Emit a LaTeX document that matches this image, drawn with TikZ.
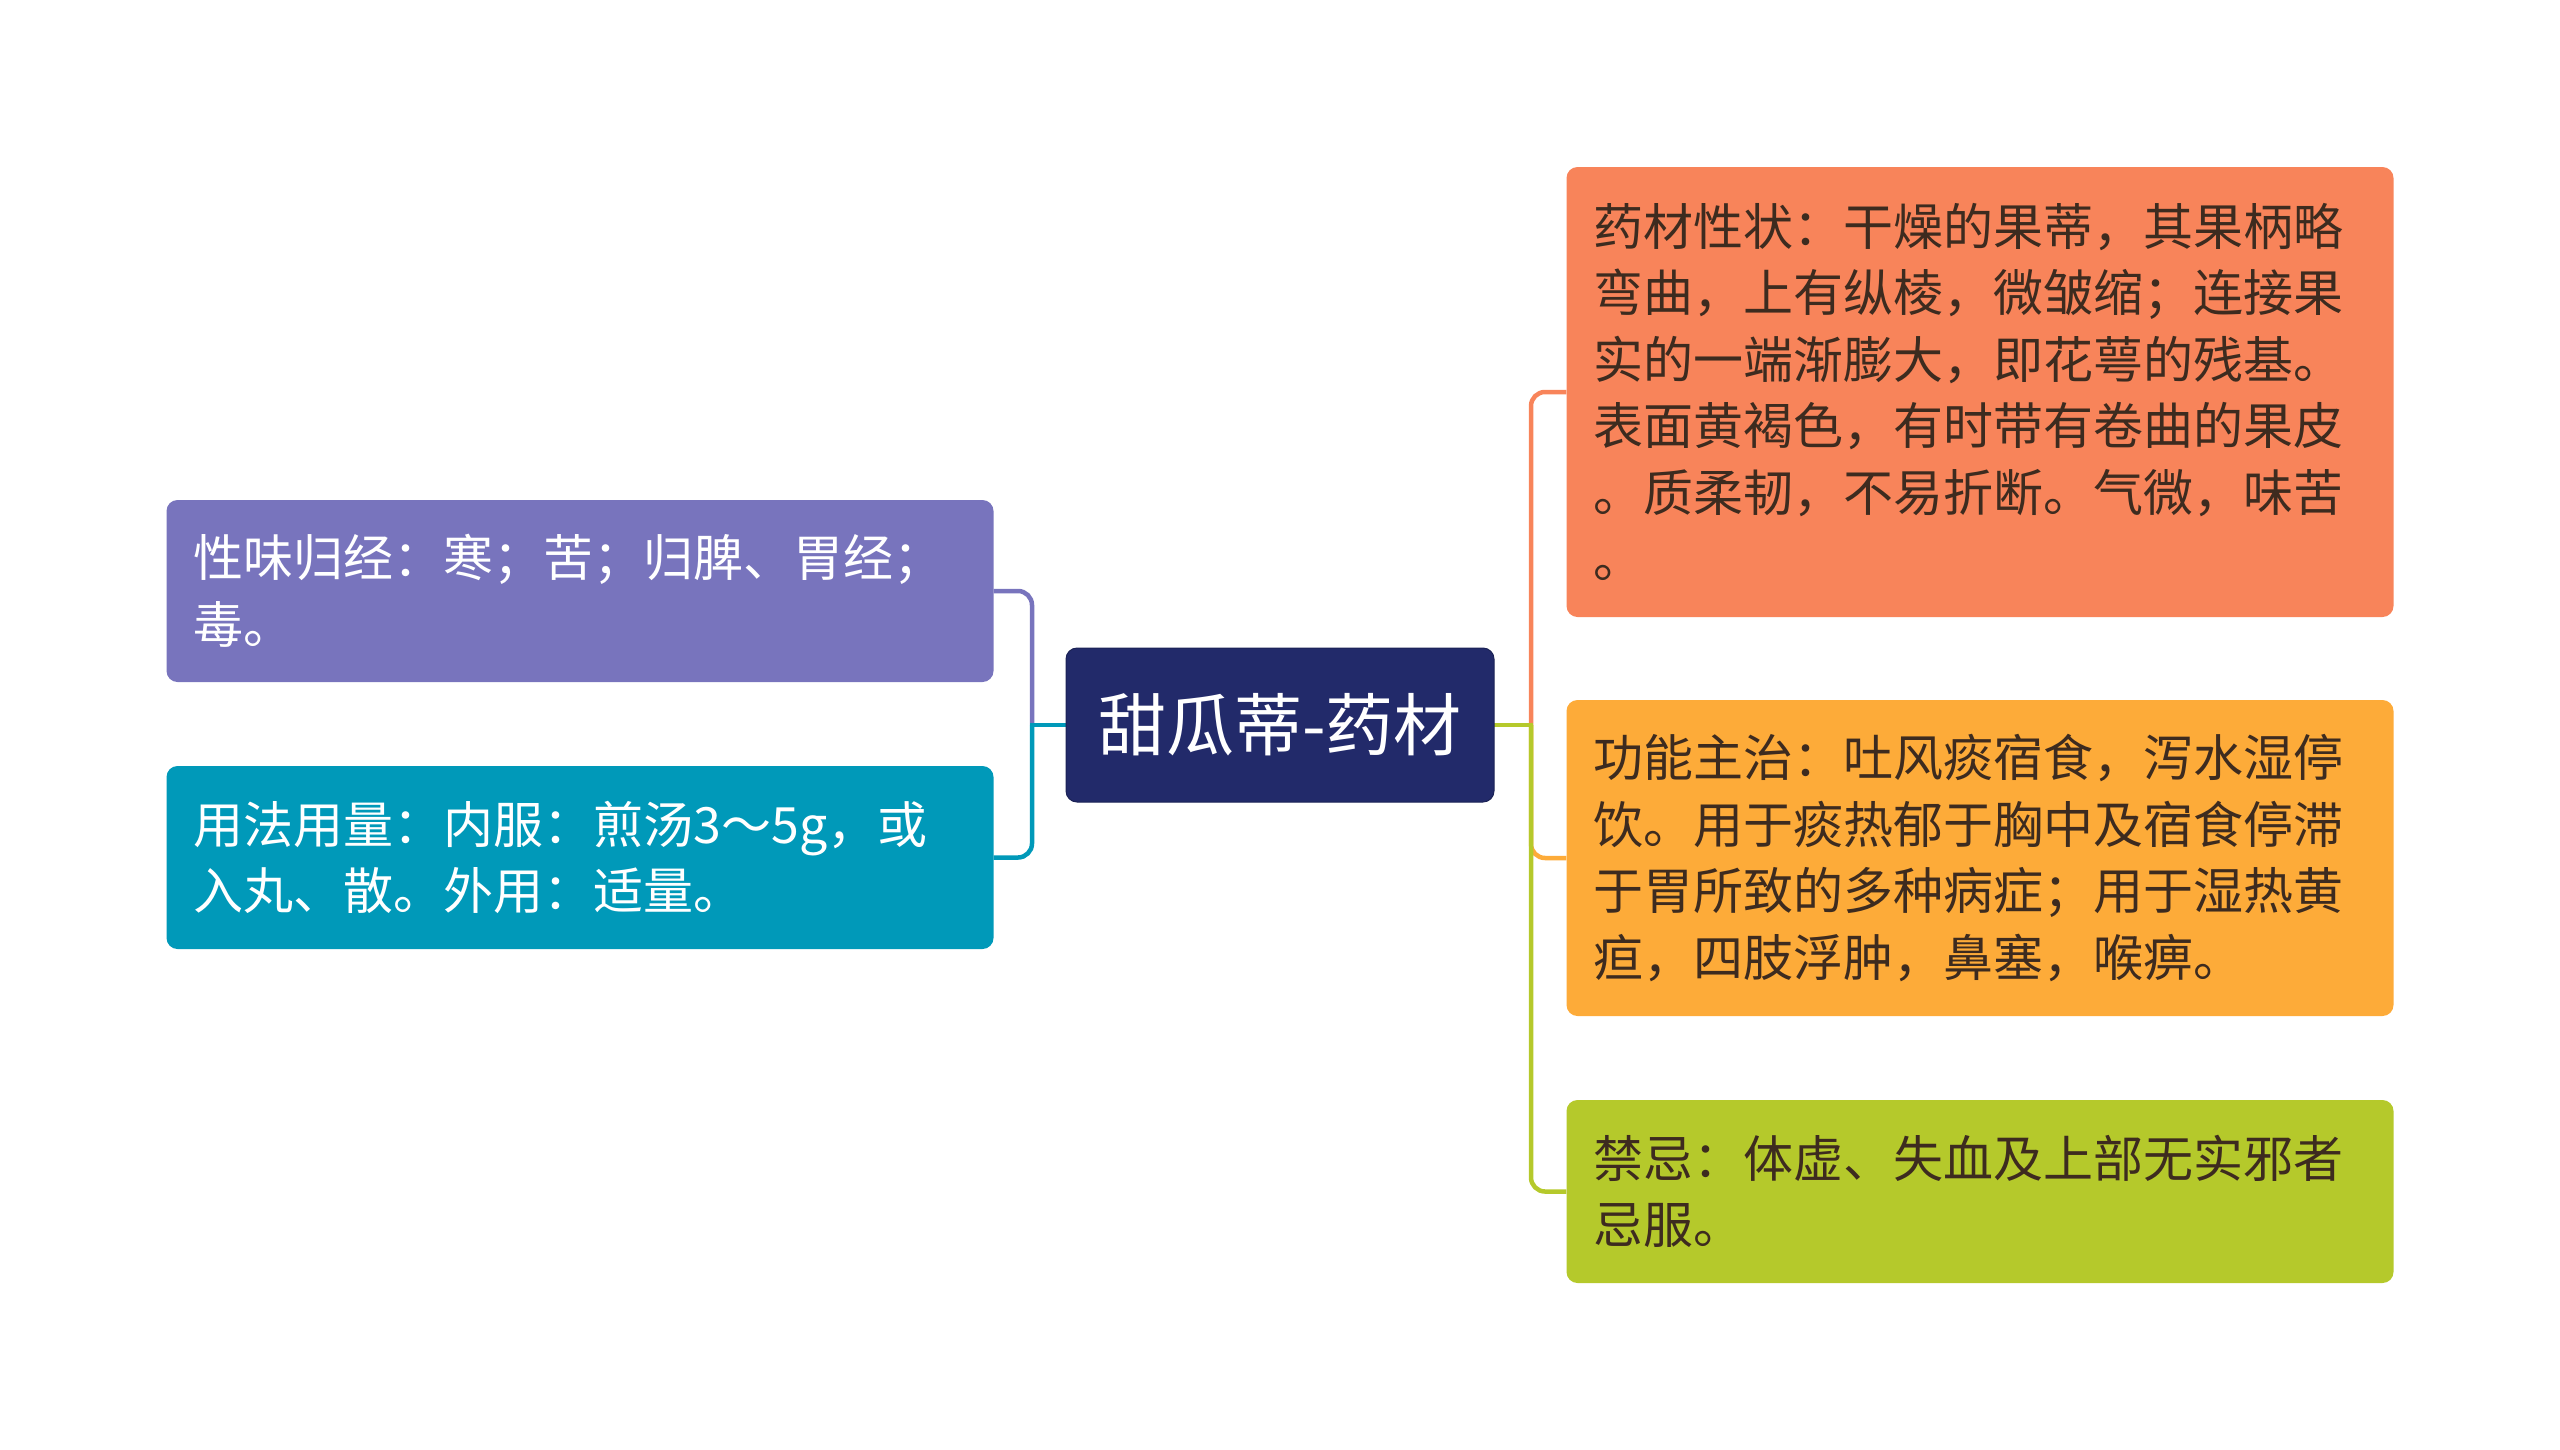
\documentclass[tikz,border=0pt]{standalone}
\usepackage{fontspec}
\setmainfont{Noto Sans CJK SC}
\newfontfamily\cjk{Noto Sans CJK SC}
\usetikzlibrary{backgrounds}
\definecolor{cpurple}{HTML}{7874BD}
\definecolor{cteal}{HTML}{0099B9}
\definecolor{cnavy}{HTML}{222A6A}
\definecolor{corange}{HTML}{F8845A}
\definecolor{cyellow}{HTML}{FDAB39}
\definecolor{cgreen}{HTML}{B5C92B}
\definecolor{cdark}{HTML}{3D2B1F}
\begin{document}
\begin{tikzpicture}[x=1pt,y=-1pt,
  box/.style={rectangle, rounded corners=11pt, minimum width=827pt, inner xsep=27pt, inner ysep=0pt,
    text width=773pt, align=left, font=\cjk\fontsize{50}{66.5}\selectfont},
  link/.style={line width=4.5pt, rounded corners=14pt},
  hub/.style={rectangle, rounded corners=11pt, fill=cnavy, draw=cnavy!80!black, line width=1pt,
    minimum width=428pt, minimum height=154pt, text=white, font=\cjk\fontsize{68}{80}\selectfont}]
\useasboundingbox (0,0) rectangle (2560,1449);

\node[hub] (ctr) at (1280,725) {甜瓜蒂-药材};

\node[box, fill=cpurple, text=white, minimum height=182pt] (pur) at (580,591)
  {性味归经：寒；苦；归脾、胃经；\\毒。};
\node[box, fill=cteal, text=white, minimum height=183pt] (tea) at (580,857.5)
  {用法用量：内服：煎汤3～5g，或\\入丸、散。外用：适量。};

\node[box, fill=corange, text=cdark, minimum height=450pt] (ora) at (1980,392)
  {药材性状：干燥的果蒂，其果柄略\\弯曲，上有纵棱，微皱缩；连接果\\实的一端渐膨大，即花萼的残基。\\表面黄褐色，有时带有卷曲的果皮\\。质柔韧，不易折断。气微，味苦\\。};
\node[box, fill=cyellow, text=cdark, minimum height=316pt] (yel) at (1980,858)
  {功能主治：吐风痰宿食，泻水湿停\\饮。用于痰热郁于胸中及宿食停滞\\于胃所致的多种病症；用于湿热黄\\疸，四肢浮肿，鼻塞，喉痹。};
\node[box, fill=cgreen, text=cdark, minimum height=183pt] (gre) at (1980,1191.5)
  {禁忌：体虚、失血及上部无实邪者\\忌服。};

\coordinate (jl) at (1032,725);
\coordinate (jr) at (1531,725);

\begin{scope}[on background layer]
\draw[link, cpurple] (jl) |- (pur.east);
\draw[link, cteal] (jl) |- (tea.east);
\draw[line width=4.5pt, cteal, line cap=rect] (ctr.west) -- (jl);
\draw[link, corange] (jr) |- (ora.west);
\draw[link, cyellow] (jr) |- (yel.west);
\draw[link, cgreen] (jr) |- (gre.west);
\draw[line width=4.5pt, cgreen, line cap=rect] (ctr.east) -- (jr);
\end{scope}
\end{tikzpicture}
\end{document}
